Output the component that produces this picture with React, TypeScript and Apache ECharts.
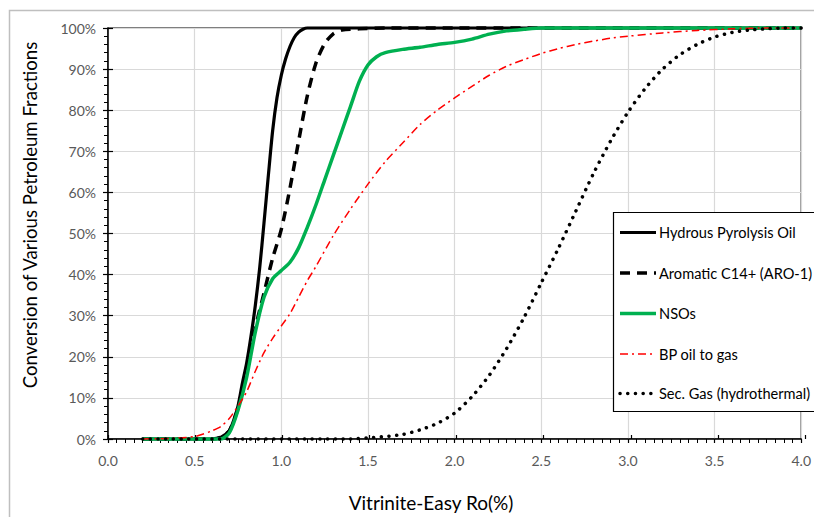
import React, { useEffect, useRef } from "react";
import * as echarts from "echarts";

// ---- Data ----
const X_MIN = 0;
const X_MAX = 4;
const X_INTERVAL = 0.5;
const Y_MIN = 0;
const Y_MAX = 100;
const Y_INTERVAL = 10;

const SERIES_NAMES = [
  "Hydrous Pyrolysis Oil",
  "Aromatic C14+ (ARO-1)",
  "NSOs",
  "BP oil to gas",
  "Sec. Gas (hydrothermal)",
];

const HPO_X = [0.2, 0.6, 0.65, 0.7, 0.725, 0.75, 0.775, 0.8, 0.825, 0.85, 0.875, 0.9, 0.925, 0.95, 0.975, 1.0, 1.025, 1.05, 1.075, 1.1, 1.125, 1.15, 1.5, 2.0, 3.0, 4.0];
const HPO_Y = [0, 0, 0.4, 2, 4.5, 8, 13.5, 18.5, 25, 32.5, 41.5, 52.5, 64, 75, 83, 88.5, 92.5, 95.5, 97.7, 99, 99.7, 100, 100, 100, 100, 100];

const ARO_X = [0.2, 0.6, 0.65, 0.7, 0.75, 0.8, 0.85, 0.9, 0.95, 1.0, 1.05, 1.1, 1.15, 1.2, 1.25, 1.3, 1.35, 1.45, 1.6, 2.0, 3.0, 4.0];
const ARO_Y = [0, 0, 0.4, 2, 7.5, 17, 27, 35.5, 44, 51, 61, 72.5, 83.5, 91.5, 96.2, 98.6, 99.5, 99.8, 100, 100, 100, 100];

const NSO_X = [0.2, 0.65, 0.7, 0.75, 0.8, 0.85, 0.9, 0.95, 1.0, 1.05, 1.1, 1.15, 1.2, 1.25, 1.3, 1.35, 1.4, 1.45, 1.5, 1.55, 1.6, 1.7, 1.8, 1.9, 2.0, 2.1, 2.2, 2.3, 2.4, 2.5, 3.0, 4.0];
const NSO_Y = [0, 0, 1.5, 7, 15, 26, 34.5, 39, 41, 43, 46.5, 51.5, 57, 63, 69, 75, 81, 87, 91, 93, 94, 94.8, 95.3, 96, 96.5, 97.3, 98.5, 99.3, 99.7, 100, 100, 100];

const BP_X = [0.2, 0.4, 0.5, 0.55, 0.6, 0.65, 0.7, 0.75, 0.8, 0.85, 0.9, 0.95, 1.0, 1.05, 1.1, 1.15, 1.2, 1.3, 1.4, 1.5, 1.6, 1.7, 1.8, 1.9, 2.0, 2.1, 2.2, 2.3, 2.4, 2.5, 2.6, 2.7, 2.8, 2.9, 3.0, 3.2, 3.4, 3.6, 3.8, 4.0];
const BP_Y = [0, 0.2, 0.6, 1.2, 2, 3, 5, 8, 11.5, 16.5, 21, 24.5, 27.5, 30.5, 34.5, 38.5, 42, 49.5, 56, 62, 67.5, 72, 76.5, 80, 83, 85.8, 88.5, 90.7, 92.3, 93.8, 95, 96, 96.8, 97.5, 98, 98.8, 99.4, 99.8, 100, 100];

const GAS_X = [0.2, 1.4, 1.5, 1.6, 1.7, 1.8, 1.9, 2.0, 2.1, 2.2, 2.3, 2.4, 2.5, 2.6, 2.7, 2.8, 2.9, 3.0, 3.1, 3.2, 3.3, 3.4, 3.5, 3.6, 3.7, 3.8, 3.9, 4.0];
const GAS_Y = [0, 0, 0.3, 0.6, 1.1, 2.2, 3.8, 6.3, 10.3, 15.5, 22, 29.5, 38, 46.5, 55.5, 64.5, 72.5, 79.5, 85.3, 90, 93.5, 96, 97.8, 98.9, 99.5, 99.8, 100, 100];

const zip = (xs: number[], ys: number[]) => xs.map((x, i) => [x, ys[i]]);

const FONT = "Lato, 'Liberation Sans', sans-serif";

const STYLES = [
  { color: "#000000", width: 3.2, type: "solid" as any, cap: "butt" },
  { color: "#000000", width: 3.5, type: [10, 7] as any, cap: "butt" },
  { color: "#00b050", width: 3.5, type: "solid" as any, cap: "butt" },
  { color: "#ff0000", width: 1.5, type: [8, 4, 2, 4] as any, cap: "butt" },
  { color: "#000000", width: 3.5, type: [0.1, 7.6] as any, cap: "round" },
];

const DATA = [zip(HPO_X, HPO_Y), zip(ARO_X, ARO_Y), zip(NSO_X, NSO_Y), zip(BP_X, BP_Y), zip(GAS_X, GAS_Y)];

export default function App() {
  const ref = useRef<HTMLDivElement>(null);

  useEffect(() => {
    if (!ref.current) return;
    const chart = echarts.init(ref.current, undefined, { renderer: "svg" });

    const gridPos = { left: 108, top: 28, right: 9, bottom: 78 };

    const legendLeft = 613.5;
    const legendTop = 212.5;
    const rowY = [232.5, 273, 313.5, 354, 393.5];
    const legendGraphics: any[] = [
      {
        type: "rect",
        shape: { x: legendLeft, y: legendTop, width: 260, height: 199 },
        style: { fill: "#ffffff", stroke: "#000000", lineWidth: 1.2 },
        z: 100,
      },
    ];
    SERIES_NAMES.forEach((name, i) => {
      const s = STYLES[i];
      legendGraphics.push({
        type: "line",
        shape: { x1: 620, y1: rowY[i], x2: 656, y2: rowY[i] },
        style: {
          stroke: s.color,
          lineWidth: s.width,
          lineDash: Array.isArray(s.type) ? s.type : null,
          lineCap: s.cap,
        },
        z: 101,
      });
      legendGraphics.push({
        type: "text",
        x: 659,
        y: rowY[i],
        style: {
          text: name,
          fill: "#000000",
          font: `14.6px ${FONT}`,
          align: "left",
          verticalAlign: "middle",
        },
        z: 101,
      });
    });

    const option: any = {
      animation: false,
      backgroundColor: "#ffffff",
      grid: [
        { ...gridPos, show: true, borderColor: "#000000", borderWidth: 1.2, backgroundColor: "transparent" },
        { ...gridPos, show: false },
      ],
      xAxis: [
        {
          type: "value",
          gridIndex: 0,
          min: X_MIN,
          max: X_MAX,
          interval: X_INTERVAL,
          axisLine: { show: true, onZero: false, lineStyle: { color: "#000000", width: 1.5 } },
          axisTick: { show: true, inside: false, length: 4, lineStyle: { color: "#000000", width: 1.2 } },
          minorTick: { show: true, splitNumber: 10, length: 4, lineStyle: { color: "#000000", width: 1 } },
          axisLabel: {
            margin: 14,
            color: "#595959",
            fontSize: 14,
            fontFamily: FONT,
            formatter: (v: number) => v.toFixed(1),
          },
          splitLine: { show: true, lineStyle: { color: "#d9d9d9", width: 1.2 } },
        },
        {
          type: "value",
          gridIndex: 1,
          min: X_MIN,
          max: X_MAX,
          interval: X_INTERVAL,
          axisLine: { show: false },
          axisTick: { show: true, inside: true, length: 4, lineStyle: { color: "#000000", width: 1.2 } },
          axisLabel: { show: false },
          splitLine: { show: false },
        },
      ],
      yAxis: [
        {
          type: "value",
          gridIndex: 0,
          min: Y_MIN,
          max: Y_MAX,
          interval: Y_INTERVAL,
          axisLine: { show: true, onZero: false, lineStyle: { color: "#000000", width: 1.5 } },
          axisTick: { show: true, inside: false, length: 5, lineStyle: { color: "#000000", width: 1.2 } },
          minorTick: { show: true, splitNumber: 5, length: 4, lineStyle: { color: "#000000", width: 1 } },
          axisLabel: {
            margin: 12,
            color: "#595959",
            fontSize: 14,
            fontFamily: FONT,
            formatter: (v: number) => `${v}%`,
          },
          splitLine: { show: true, lineStyle: { color: "#d9d9d9", width: 1.2 } },
        },
        {
          type: "value",
          gridIndex: 1,
          min: Y_MIN,
          max: Y_MAX,
          interval: Y_INTERVAL,
          axisLine: { show: false },
          axisTick: { show: true, inside: true, length: 5, lineStyle: { color: "#000000", width: 1.2 } },
          axisLabel: { show: false },
          splitLine: { show: false },
        },
      ],
      series: SERIES_NAMES.map((name, i) => ({
        name,
        type: "line",
        xAxisIndex: 0,
        yAxisIndex: 0,
        data: DATA[i],
        showSymbol: false,
        symbol: "none",
        smooth: 0.25,
        clip: false,
        lineStyle: {
          color: STYLES[i].color,
          width: STYLES[i].width,
          type: STYLES[i].type,
          cap: STYLES[i].cap,
          join: "round",
        },
        z: 2 + i,
      })),
      graphic: [
        {
          type: "rect",
          shape: { x: 9.5, y: 10.5, width: 900, height: 700 },
          style: { fill: "none", stroke: "#bfbfbf", lineWidth: 1.5 },
          silent: true,
          z: 0,
        },
        {
          type: "text",
          x: 30,
          y: 215,
          rotation: Math.PI / 2,
          style: {
            text: "Conversion of Various Petroleum Fractions",
            fill: "#000000",
            font: `18.6px ${FONT}`,
            align: "center",
            verticalAlign: "middle",
          },
        },
        {
          type: "text",
          x: 431,
          y: 502,
          style: {
            text: "Vitrinite-Easy Ro(%)",
            fill: "#000000",
            font: `19px ${FONT}`,
            align: "center",
            verticalAlign: "middle",
          },
        },
        ...legendGraphics,
      ],
    };

    chart.setOption(option);
    return () => chart.dispose();
  }, []);

  return (
    <div
      ref={ref}
      style={{ position: "fixed", left: 0, top: 0, width: 814, height: 517 }}
    />
  );
}
